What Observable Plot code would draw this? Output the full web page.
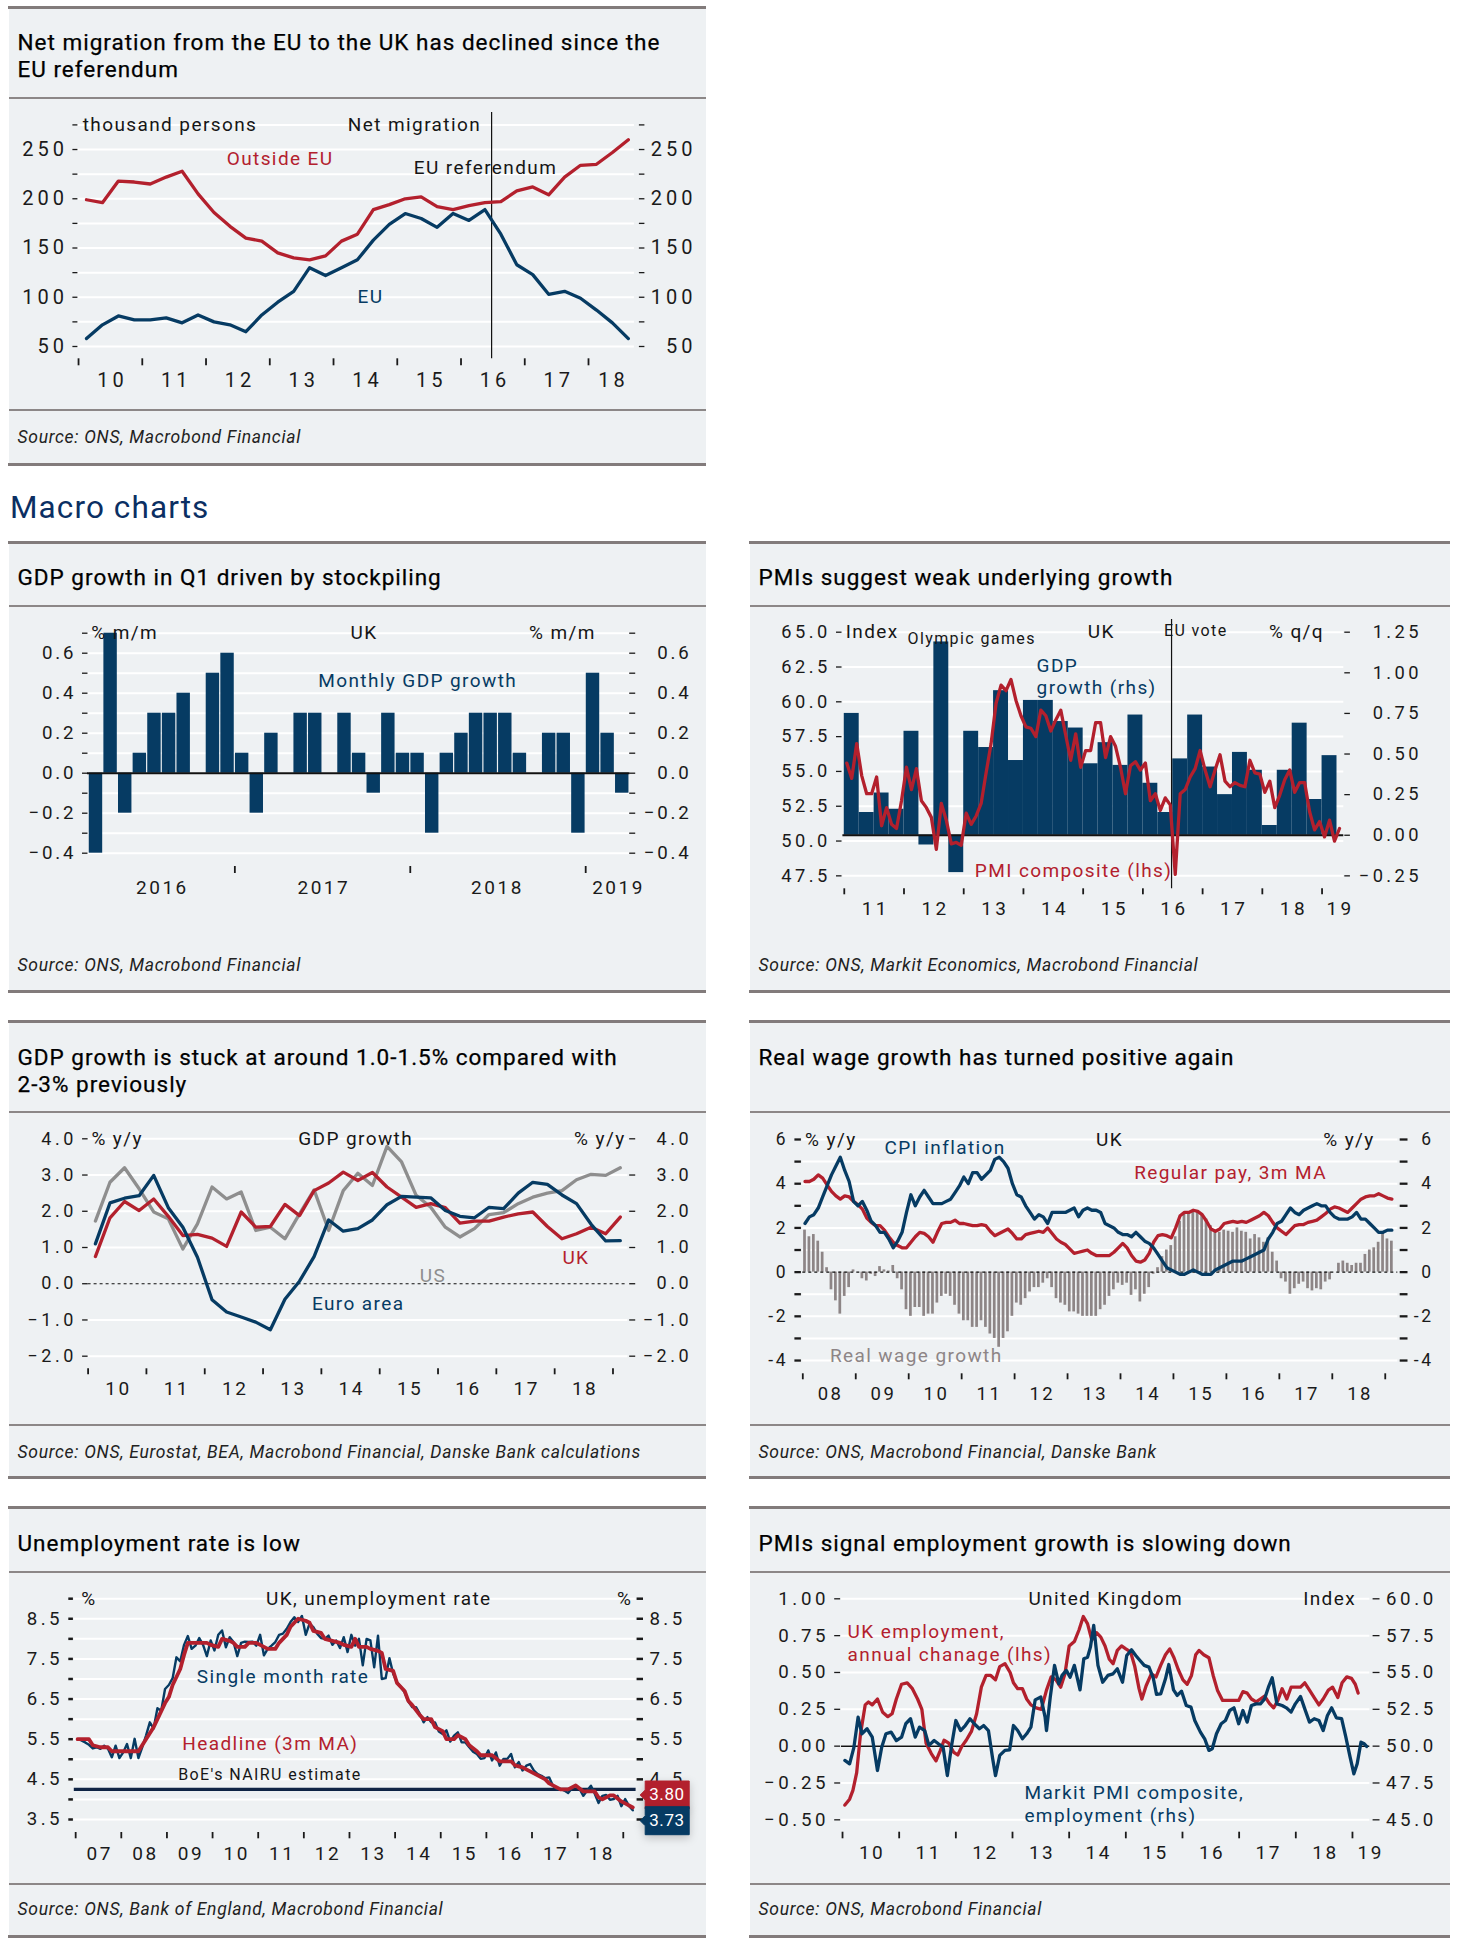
<!DOCTYPE html>
<html><head><meta charset="utf-8">
<script src="https://cdn.jsdelivr.net/npm/d3@7"></script>
<script src="https://cdn.jsdelivr.net/npm/@observablehq/plot@0.6"></script>
<style>
html,body{margin:0;padding:0;background:#fff;}
body{position:relative;width:1457px;height:1951px;overflow:hidden;font-family:Roboto,sans-serif;}
.bg{position:absolute;background:#eef1f3;}
.rule{position:absolute;background:#827b7b;}
.sep{position:absolute;background:#8c8787;}
.title{position:absolute;font-size:22.5px;line-height:27px;color:#000;font-weight:400;letter-spacing:1px;white-space:nowrap;-webkit-text-stroke:0.25px #000;}
.source{position:absolute;font-size:17.5px;line-height:20px;font-style:italic;color:#222;letter-spacing:0.7px;white-space:nowrap;}
.head{position:absolute;font-size:31.5px;line-height:36px;color:#0b2f63;letter-spacing:1.1px;white-space:nowrap;}
.chart{position:absolute;}
.chart svg{overflow:visible;}
.unemp g[aria-label="tip"] text,.unemp g[aria-label="tip"] tspan{fill:#fff !important;letter-spacing:0.6px;}
</style></head><body>
<script>
// ================= DATA =================
// 1. Net migration (thousand persons, rolling year, quarterly from 2010 Q1)
const migStart = 2010.125;
const migEU = [58,72,81,77,77,79,74,82,75,72,65,82,95,106,130,122,130,138,158,174,185,180,171,185,178,189,164,133,123,103,106,99,87,74,58];
const migNonEU = [199,196,218,217,215,222,228,205,186,172,160,157,145,140,138,142,157,164,189,194,200,202,192,189,193,196,197,208,212,204,222,234,235,247,260];
const migYTicks = [50,75,100,125,150,175,200,225,250,275];
const migXTicks = [2010,2011,2012,2013,2014,2015,2016,2017,2018];
const migXLabels = [2010.5,2011.5,2012.5,2013.5,2014.5,2015.5,2016.5,2017.5,2018.36];
const euRefDate = 2016.48;

// 2. Monthly GDP growth (% m/m), Mar 2016 - Mar 2019
const gdpStartMonth = 2; // March 2016 (0 = January)
const gdpMoM = [-0.4,0.7,-0.2,0.1,0.3,0.3,0.4,0.0,0.5,0.6,0.1,-0.2,0.2,0.0,0.3,0.3,0.0,0.3,0.1,-0.1,0.3,0.1,0.1,-0.3,0.1,0.2,0.3,0.3,0.3,0.1,0.0,0.2,0.2,-0.3,0.5,0.2,-0.1];
const gdpYTicks = [-0.4,-0.3,-0.2,-0.1,0,0.1,0.2,0.3,0.4,0.5,0.6,0.7];
const gdpXTicks = [2017,2018,2019];
const gdpXLabels = [2016.58,2017.5,2018.49,2019.18];

// 3. PMI composite (lhs, monthly from Jan 2011) and GDP growth (rhs, % q/q, quarterly from 2011 Q1)
const pmiComposite = [55.6,54.5,57.0,54.7,53.4,53.4,54.6,51.1,52.4,51.2,50.9,52.9,
 55.3,53.7,55.2,52.9,52.4,51.7,49.4,52.7,51.5,49.8,49.9,49.7,
 52.0,51.2,51.8,52.7,54.9,57.0,59.9,61.2,60.8,61.6,60.1,59.0,
 58.2,58.1,57.5,59.4,59.0,57.9,58.7,59.4,57.6,55.8,57.7,55.3,
 56.5,56.5,58.5,58.5,56.0,57.5,56.8,55.3,53.4,55.4,55.7,55.1,
 55.6,52.9,53.4,52.2,53.1,52.6,47.6,53.4,53.7,54.6,55.2,56.5,
 55.1,53.9,55.1,56.2,54.3,53.9,54.2,54.0,53.9,55.8,54.9,54.8,
 53.5,54.3,52.4,53.3,54.4,55.1,53.5,54.2,54.2,52.1,50.8,51.4,
 50.3,51.5,50.0,50.9];
const gdpQoQ = [0.75,0.14,0.26,0.16,0.64,-0.06,1.19,-0.23,0.64,0.54,0.89,0.46,0.83,0.83,0.70,0.66,0.44,0.57,0.43,0.74,0.32,0.14,0.47,0.74,0.42,0.25,0.51,0.40,0.06,0.40,0.69,0.22,0.49];
const pmiLeftTicks = [47.5,50,52.5,55,57.5,60,62.5,65];
const pmiRightTicks = [-0.25,0,0.25,0.5,0.75,1,1.25];
const pmiXTicks = [2011,2012,2013,2014,2015,2016,2017,2018,2019];
const pmiXLabels = [2011.5,2012.5,2013.5,2014.5,2015.5,2016.5,2017.5,2018.5,2019.28];

// 4. GDP growth % y/y, quarterly 2010 Q1 - 2019 Q1
const yoyStart = 2010.125;
const gdpEuro = [1.10,2.23,2.36,2.43,2.99,2.10,1.56,0.73,-0.44,-0.78,-0.92,-1.06,-1.27,-0.43,0.07,0.75,1.76,1.45,1.52,1.76,2.18,2.41,2.39,2.37,2.02,1.86,1.82,2.11,2.07,2.50,2.80,2.74,2.45,2.21,1.64,1.18,1.19];
const gdpUK = [0.75,1.82,2.27,2.02,2.34,1.86,1.33,1.36,1.26,1.03,1.98,1.56,1.58,2.19,1.88,2.57,2.78,3.08,2.85,3.07,2.67,2.39,2.11,2.21,2.10,1.67,1.73,1.73,1.84,1.93,1.98,1.58,1.24,1.38,1.56,1.38,1.84];
const gdpUS = [1.73,2.80,3.20,2.62,1.98,1.79,0.96,1.65,2.67,2.34,2.53,1.47,1.56,1.24,1.93,2.59,1.47,2.57,3.05,2.71,3.79,3.36,2.44,2.11,1.56,1.29,1.52,1.91,1.96,2.21,2.39,2.50,2.57,2.87,3.02,2.99,3.20];
const yoyYTicks = [-2,-1,0,1,2,3,4];
const yoyXTicks = [2010,2011,2012,2013,2014,2015,2016,2017,2018,2019];
const yoyXLabels = [2010.5,2011.5,2012.5,2013.5,2014.5,2015.5,2016.5,2017.5,2018.5];

// 5. Real wage growth, CPI, regular pay (% y/y), monthly from Jan 2008
const wageStart = 2008;
const realWage = [1.9,1.6,1.7,1.4,0.9,0.2,-0.8,-1.3,-1.9,-1.1,-0.7,0.1,
 0.0,-0.3,-0.4,-0.1,-0.2,0.25,0.1,0.05,0.3,-0.3,-0.8,-1.7,
 -2.0,-1.6,-1.6,-2.0,-1.9,-1.9,-1.4,-1.1,-1.0,-1.1,-1.5,-1.9,
 -2.2,-2.2,-2.5,-2.5,-2.2,-2.5,-2.8,-3.0,-3.4,-3.0,-2.7,-2.0,
 -1.4,-1.5,-1.2,-0.9,-0.7,-0.7,-0.5,-0.3,-0.7,-1.2,-1.4,-1.5,
 -1.8,-1.8,-1.9,-2.0,-2.0,-2.0,-2.0,-1.7,-1.5,-1.1,-0.8,-0.5,
 -0.6,-0.5,-1.05,-0.8,-1.35,-1.0,-0.7,-0.1,0.2,0.7,1.0,1.2,
 1.6,2.3,2.7,2.7,2.7,2.7,2.6,2.4,2.1,1.9,1.8,1.9,
 1.85,1.8,2.0,1.85,1.8,1.5,1.7,1.55,1.35,1.55,0.9,0.5,
 -0.3,-0.45,-1.0,-0.75,-0.55,-0.45,-0.75,-0.85,-0.75,-0.8,-0.45,-0.35,
 0.0,0.4,0.5,0.4,0.3,0.4,0.4,0.8,1.0,1.1,1.35,1.75,
 1.5,1.4];
const cpiInfl = [2.2,2.5,2.6,2.9,3.4,3.9,4.4,4.8,5.2,4.6,4.1,3.2,
 3.0,3.2,2.8,2.3,2.1,1.8,1.8,1.5,1.1,1.4,1.8,2.7,
 3.5,3.0,3.4,3.7,3.4,3.1,3.1,3.1,3.2,3.3,3.6,3.9,
 4.3,4.0,4.5,4.5,4.2,4.4,4.6,5.1,5.2,5.0,4.7,4.0,
 3.5,3.4,3.0,2.7,2.4,2.6,2.5,2.2,2.7,2.7,2.7,2.7,
 2.8,2.9,2.5,2.8,2.9,2.8,2.8,2.7,2.2,2.1,2.0,1.8,
 1.7,1.7,1.6,1.8,1.6,1.4,1.3,1.1,0.8,0.5,0.2,0.1,
 0.0,-0.1,-0.1,0.0,0.1,0.0,-0.1,-0.1,-0.1,0.1,0.2,0.3,
 0.4,0.5,0.5,0.5,0.6,0.7,0.8,0.9,1.0,1.5,1.8,2.2,
 2.3,2.6,2.9,2.7,2.6,2.8,2.9,3.0,3.1,3.0,3.0,2.7,
 2.5,2.4,2.4,2.4,2.5,2.7,2.4,2.4,2.2,2.0,1.8,1.8,
 1.9,1.9];
const regularPay = [4.1,4.1,4.2,4.4,4.25,3.95,3.65,3.45,3.3,3.45,3.4,3.2,
 3.05,2.85,2.45,2.25,2.1,2.1,1.9,1.6,1.35,1.2,1.1,1.1,
 1.35,1.6,1.8,1.75,1.6,1.35,1.8,2.2,2.25,2.25,2.35,2.2,
 2.2,2.15,2.1,2.1,2.15,2.1,1.85,1.65,1.75,1.85,1.95,1.75,
 1.5,1.5,1.7,1.75,1.8,1.85,1.8,2.0,1.75,1.5,1.35,1.25,
 1.05,0.85,0.9,0.95,1.0,0.85,0.75,0.75,0.75,0.75,0.9,1.1,
 1.3,1.1,0.75,0.5,0.45,0.55,0.85,1.35,1.65,1.7,1.65,1.55,
 2.0,2.55,2.7,2.7,2.8,2.75,2.6,2.3,1.95,1.85,1.95,2.2,
 2.25,2.3,2.25,2.3,2.25,2.35,2.45,2.55,2.7,2.55,2.25,2.0,
 1.85,1.7,1.9,2.1,2.15,2.15,2.25,2.3,2.35,2.5,2.65,2.85,
 2.95,2.9,2.8,2.7,2.9,3.1,3.3,3.4,3.45,3.45,3.55,3.45,
 3.35,3.3];
const wageYTicks = [-4,-3,-2,-1,0,1,2,3,4,5,6];
const wageXTicks = [2008,2009,2010,2011,2012,2013,2014,2015,2016,2017,2018,2019];
const wageXLabels = [2008.5,2009.5,2010.5,2011.5,2012.5,2013.5,2014.5,2015.5,2016.5,2017.5,2018.5];

// 6. Unemployment rate (%), monthly from Jan 2007
const unempStart = 2007;
const unempSingle = [5.5,5.47,5.42,5.36,5.27,5.3,5.26,5.34,5.26,5.05,5.34,5.03,
 5.17,5.38,5.03,5.51,5.03,5.3,5.59,5.92,5.77,6.27,6.21,6.75,
 6.85,7.02,7.54,7.44,7.85,8.07,7.75,7.83,8.02,7.85,7.57,7.96,
 7.71,8.1,8.21,7.79,8.04,7.92,7.57,7.9,7.93,7.92,7.93,7.83,
 8.1,7.59,7.75,7.83,7.92,8.1,8.13,8.25,8.42,8.54,8.42,8.57,
 8.1,8.38,8.29,8.13,8.02,8.0,8.08,7.85,7.96,7.77,8.04,7.67,
 8.1,7.83,8.0,7.34,8.0,7.96,7.29,8.08,7.0,7.02,7.52,7.13,
 6.92,6.8,6.67,6.44,6.3,6.3,6.13,5.92,6.05,5.92,5.92,5.69,
 5.63,5.72,5.44,5.59,5.67,5.42,5.42,5.3,5.19,5.13,5.01,5.03,
 5.22,4.97,5.17,4.84,5.01,5.01,5.13,4.8,4.93,4.72,4.84,4.88,
 4.72,4.63,4.59,4.53,4.55,4.34,4.26,4.26,4.22,4.16,4.28,4.34,
 4.26,4.09,4.22,4.34,4.14,3.91,4.09,4.11,3.99,4.01,4.09,3.83,
 4.01,3.84,3.73];
const unempMaMonth = [0,3,4,6,8,9,16,17,18,20,21,23,24,25,27,28,29,31,32,34,35,37,38,40,41,42,44,45,47,48,50,52,53,55,56,57,58,60,61,62,64,65,67,69,70,72,73,74,76,77,79,80,81,83,84,86,87,88,90,91,93,94,96,97,99,100,102,103,105,106,108,109,111,112,114,115,117,118,120,121,123,124,126,127,129,130,131,133,134,136,137,138,140,141,143,144,146];
const unempMa = [5.5,5.5,5.35,5.3,5.3,5.2,5.2,5.35,5.5,5.8,6.0,6.4,6.55,6.85,7.25,7.6,7.9,7.9,7.9,7.9,7.85,7.8,8.0,7.95,7.9,7.8,7.8,7.9,7.9,7.85,7.75,7.75,7.9,8.1,8.3,8.4,8.5,8.45,8.4,8.2,8.15,8.0,7.95,7.9,7.85,7.8,8.0,7.8,7.8,7.75,7.7,7.65,7.25,7.2,6.9,6.7,6.45,6.35,6.1,6.0,6.0,5.8,5.7,5.5,5.5,5.6,5.5,5.35,5.2,5.1,5.1,5.1,4.95,4.95,4.95,4.85,4.8,4.75,4.65,4.6,4.5,4.4,4.3,4.25,4.25,4.3,4.35,4.2,4.2,4.2,4.05,4.0,4.1,4.1,3.95,3.9,3.8];
const nairu = 4.25;
const unempLast = {ma: "3.80", single: "3.73"};
const unempYTicks = [3.5,4,4.5,5,5.5,6,6.5,7,7.5,8,8.5,9];
const unempXTicks = [2007,2008,2009,2010,2011,2012,2013,2014,2015,2016,2017,2018,2019];
const unempXLabels = [2007.5,2008.5,2009.5,2010.5,2011.5,2012.5,2013.5,2014.5,2015.5,2016.5,2017.5,2018.5];

// 7. UK employment annual change (lhs) and PMI composite employment (rhs), months since Jan 2010
const empStart = 2010;
const empChgMonth = [0,1,1.7,2.5,3.3,4.3,5,5.8,6.9,8,9.1,10,10.9,12,13.2,14.3,15.4,16.3,17.2,18.3,19.3,20.2,21,22,23,23.9,24.8,25.7,26.8,27.9,28.9,29.9,30.9,31.9,32.8,33.9,35,35.7,36.6,37.6,38.5,39.4,40.5,41.6,42.7,43.7,44.7,45.7,46.6,47.5,48.6,49.6,50.5,51.4,52.3,53.3,54.2,55.1,56,56.8,57.7,58.6,59.5,60.5,61.4,62.3,62.9,63.8,64.9,65.9,66.9,67.9,68.8,69.7,70.6,71.6,72.5,73.4,74.3,75,76,77.1,78,78.9,80,81.2,82.3,83.4,84.3,85.2,86.1,87.1,88,88.9,89.9,90.8,91.7,92.6,93.6,94.5,95.4,96.5,97.4,98.4,99.4,100.4,101.3,102.4,103.3,104.4,105.3,106.3,107.3,108.1,108.7];
const empChg = [-0.40,-0.36,-0.30,-0.18,0.08,0.28,0.30,0.28,0.32,0.23,0.20,0.22,0.32,0.42,0.43,0.39,0.32,0.25,0.02,-0.05,-0.10,-0.03,0.04,0.02,-0.04,-0.06,0.00,0.04,0.10,0.22,0.40,0.48,0.48,0.45,0.54,0.56,0.50,0.43,0.39,0.39,0.32,0.28,0.26,0.25,0.38,0.47,0.45,0.40,0.49,0.68,0.71,0.79,0.88,0.83,0.72,0.77,0.74,0.68,0.59,0.56,0.65,0.68,0.66,0.64,0.54,0.39,0.32,0.41,0.49,0.47,0.55,0.62,0.66,0.60,0.52,0.45,0.42,0.48,0.62,0.65,0.62,0.60,0.48,0.38,0.31,0.31,0.31,0.31,0.37,0.36,0.32,0.30,0.32,0.34,0.29,0.26,0.31,0.39,0.32,0.40,0.40,0.40,0.43,0.38,0.33,0.28,0.32,0.38,0.40,0.33,0.43,0.47,0.46,0.42,0.36];
const empPmiMonth = [0,1,1.9,2.8,3.6,4.7,5.8,6.9,7.8,8.7,9.8,10.9,12,12.9,13.9,14.9,15.8,16.9,17.8,18.9,19.8,20.8,21.7,22.6,23.5,24.5,25.5,26.5,27.4,28.5,29.4,30.4,31.3,31.9,32.8,33.9,34.9,35.7,36.6,37.6,38.5,39.4,40.3,41.5,42.4,42.7,43.5,44.4,45.3,46,46.9,47.7,48.6,49.8,50.6,51.4,52,52.7,53.6,54.6,55.7,56.8,57.7,58.8,59.7,60.7,61.6,62.5,63.4,64.4,65.3,66,66.9,67.9,68.6,69.6,70.4,71.3,72.3,73.3,74.1,75.3,76.2,77.1,77.8,78.7,79.7,80.6,81.5,82.4,83.4,84.3,85.2,86.1,87.1,88,88.9,89.7,90.5,91.5,92.6,93.5,94.5,95.4,96.5,97.4,98.4,99.4,100.4,101.3,102.2,103.1,104.1,105.2,106.1,107,107.8,108.5,109.3,110,110.5];
const empPmi = [49.03,48.8,49.9,51.97,50.84,51.18,50.61,48.35,49.93,50.84,50.95,50.38,50.61,51.52,51.86,50.61,51.29,51.06,50.05,50.38,50.16,49.93,48.0,50.05,51.74,51.06,51.4,51.86,51.52,51.18,51.4,51.06,49.14,48.0,49.37,49.71,49.75,51.4,51.06,50.5,50.84,51.29,53.14,53.33,51.97,51.06,53.33,55.48,54.23,54.8,55.14,54.68,55.48,53.82,55.93,56.04,56.72,58.19,55.48,54.34,54.8,54.91,55.25,54.34,56.15,56.54,56.15,55.81,55.48,55.36,54.64,53.51,53.55,54.57,55.54,53.82,53.44,53.73,52.76,52.65,51.74,50.95,50.5,49.71,49.82,50.84,51.52,51.74,52.42,52.6,51.52,52.42,51.63,52.76,52.87,52.87,53.21,54.0,54.64,52.87,52.76,52.6,52.31,52.87,53.37,52.53,51.63,51.86,51.74,51.06,52.08,52.6,51.92,51.86,50.61,49.25,48.12,48.8,50.27,50.16,49.98];
const empYTicks = [-0.5,-0.25,0,0.25,0.5,0.75,1];
const empXTicks = [2010,2011,2012,2013,2014,2015,2016,2017,2018,2019];
const empXLabels = [2010.5,2011.5,2012.5,2013.5,2014.5,2015.5,2016.5,2017.5,2018.5,2019.3];

// ================= STYLE =================
const C = {blue:"#063b63", red:"#b3202d", gray:"#8e8e8e", wage:"#8d8586", ink:"#161616", nairu:"#0f2445"};
const LW_LINE = 3.3;
const PLOT_STYLE = "font-family:Roboto,sans-serif;font-size:19px;color:#161616;background:transparent;overflow:visible;letter-spacing:1.4px;";
const f1 = d3.format(".1f"), f2 = d3.format(".2f");
const yy = d => String(Math.floor(d) % 100).padStart(2, "0");

function add(cls, css, html) {
  const e = document.createElement("div");
  e.className = cls;
  for (const k in css) e.style[k] = typeof css[k] === "number" ? css[k] + "px" : css[k];
  if (html) e.innerHTML = html;
  document.body.appendChild(e);
  return e;
}
function panel(p) {
  add("bg", {left:p.x, top:p.top, width:p.w, height:p.bottom - p.top});
  add("rule", {left:p.x - 1.5, top:p.top, width:p.w + 1.5, height:3});
  add("rule", {left:p.x - 1.5, top:p.bottom - 3, width:p.w + 1.5, height:3});
  add("sep", {left:p.x, top:p.sep1 - 1, width:p.w, height:2});
  if (p.sep2) add("sep", {left:p.x, top:p.sep2 - 1, width:p.w, height:2});
  add("title", {left:p.x + 8.5, top:p.tc - 13.2}, p.title);
  add("source", {left:p.x + 8.5, top:p.sc - 9.8}, p.source);
}
function axes(o) {
  const tc = {stroke:"#1a1a1a", fill:"#1a1a1a", label:null};
  const ms = [];
  ms.push(Plot.axisY(o.lt, {...tc, anchor:"left", tickSize:o.l[0], dx:o.l[1], tickPadding:o.l[2], tickFormat:o.lf, fontSize:o.fs, strokeWidth:o.tw || 1.3}));
  ms.push(Plot.axisY(o.rt || o.lt, {...tc, anchor:"right", tickSize:o.r[0], dx:o.r[1], tickPadding:o.r[2], tickFormat:o.rf || o.lf, textAnchor:"end", fontSize:o.fs, strokeWidth:o.tw || 1.3}));
  ms.push(Plot.axisX(o.xt, {...tc, anchor:"bottom", tickSize:o.xs, tickFormat:() => "", strokeWidth:1.8}));
  ms.push(Plot.axisX(o.xl, {...tc, anchor:"bottom", tickSize:0, tickPadding:o.xp, tickFormat:o.xf || yy, fontSize:o.xfs || o.fs, dx:(o.xls || o.ls) / 2}));
  return ms;
}
function lab(t, x, y, o = {}) {
  return Plot.text([{x, y}], {x:"x", y:"y", text:[t], fill:o.c || C.ink, textAnchor:o.a || "middle", fontSize:o.s || 19, lineAnchor:"middle"});
}
function grid(ticks) { return Plot.ruleY(ticks, {stroke:"#fff", strokeWidth:2}); }
function chart(o) {
  const svg = Plot.plot({
    width:o.w, height:o.h,
    marginTop:o.m[0], marginRight:o.m[1], marginBottom:o.m[2], marginLeft:o.m[3],
    x:{type:"linear", domain:o.xd}, y:{type:"linear", domain:o.yd},
    className:o.cls, style:PLOT_STYLE, marks:o.marks
  });
  d3.select(svg).selectAll('g[aria-label="y-axis tick label"]').style("letter-spacing", o.ls + "px");
  d3.select(svg).selectAll('g[aria-label="x-axis tick label"]').style("letter-spacing", (o.xls || o.ls) + "px");
  const d = add("chart", {left:o.left, top:o.top, width:o.w, height:o.h});
  d.appendChild(svg);
}

// ================= PAGE =================
const L = 9, LW = 697, R = 750, RW = 700;
panel({x:L, w:LW, top:6, bottom:466, sep1:98, sep2:410, tc:42, sc:437,
  title:"Net migration from the EU to the UK has declined since the<br>EU referendum", source:"Source: ONS, Macrobond Financial"});
add("head", {left:10, top:489.5}, "Macro charts");
panel({x:L, w:LW, top:541, bottom:993, sep1:606, tc:577, sc:965,
  title:"GDP growth in Q1 driven by stockpiling", source:"Source: ONS, Macrobond Financial"});
panel({x:R, w:RW, top:541, bottom:993, sep1:606, tc:577, sc:965,
  title:"PMIs suggest weak underlying growth", source:"Source: ONS, Markit Economics, Macrobond Financial"});
panel({x:L, w:LW, top:1020, bottom:1479, sep1:1112, sep2:1425, tc:1057, sc:1452,
  title:"GDP growth is stuck at around 1.0-1.5% compared with<br>2-3% previously", source:"Source: ONS, Eurostat, BEA, Macrobond Financial, Danske Bank calculations"});
panel({x:R, w:RW, top:1020, bottom:1479, sep1:1112, sep2:1425, tc:1057, sc:1452,
  title:"Real wage growth has turned positive again", source:"Source: ONS, Macrobond Financial, Danske Bank"});
panel({x:L, w:LW, top:1506, bottom:1938, sep1:1572, sep2:1884, tc:1543, sc:1909,
  title:"Unemployment rate is low", source:"Source: ONS, Bank of England, Macrobond Financial"});
panel({x:R, w:RW, top:1506, bottom:1938, sep1:1572, sep2:1884, tc:1543, sc:1909,
  title:"PMIs signal employment growth is slowing down", source:"Source: ONS, Macrobond Financial"});

// ---- Chart 1: net migration
{
  const rows = migEU.map((v, i) => ({x: migStart + i * 0.25, eu: v, non: migNonEU[i]}));
  const fmt = d => (d % 50 === 0 && d <= 250) ? String(d) : "";
  chart({left:8, top:99, w:698, h:310, m:[25.4, 72.1, 50.7, 69.4], xd:[2009.99, 2018.72], yd:[37.5, 275], ls:4,
    marks:[
      grid(migYTicks),
      ...axes({lt:migYTicks, lf:fmt, fs:20, ls:4, l:[5, 0, 4.8], r:[5.5, 4, 52.6], xt:migXTicks, xs:7, xl:migXLabels, xp:13.9}),
      Plot.ruleX([euRefDate], {y1:37.5, y2:287.6, stroke:"#111", strokeWidth:1.2}),
      Plot.line(rows, {x:"x", y:"non", stroke:C.red, strokeWidth:LW_LINE}),
      Plot.line(rows, {x:"x", y:"eu", stroke:C.blue, strokeWidth:LW_LINE}),
      lab("thousand persons", 2010.065, 275, {a:"start"}),
      lab("Net migration", 2015.27, 275),
      lab("Outside EU", 2013.162, 240.6, {c:C.red}),
      lab("EU referendum", 2016.384, 231),
      lab("EU", 2014.58, 100.8, {c:C.blue})
    ]});
}

// ---- Chart 2: monthly GDP
{
  const rows = gdpMoM.map((v, i) => ({x1: 2016 + (gdpStartMonth + i) / 12, x2: 2016 + (gdpStartMonth + i + 1) / 12, v}));
  const fmt = d => (Math.abs(Math.round(d * 10)) % 2 === 0 && d < 0.65) ? f1(d) : "";
  chart({left:8, top:607, w:698, h:383, m:[25.7, 76.6, 124, 79], xd:[2016.16, 2019.252], yd:[-0.4665, 0.7], ls:2.75, xls:2.5,
    marks:[
      grid(gdpYTicks),
      ...axes({lt:gdpYTicks, lf:fmt, fs:18.7, ls:2.75, xls:2.5, l:[5.5, 0.5, 6.35], r:[6, -1.2, 56.75], xt:gdpXTicks, xs:7, xl:gdpXLabels, xp:13.6, xf:d => String(Math.floor(d)), xfs:19}),
      Plot.rect(rows, {x1:"x1", x2:"x2", y1:0, y2:"v", fill:C.blue, insetLeft:0.6, insetRight:0.6}),
      Plot.ruleY([0], {stroke:"#111", strokeWidth:2}),
      lab("% m/m", 2016.182, 0.7, {a:"start"}),
      lab("UK", 2017.737, 0.7),
      lab("% m/m", 2019.058, 0.7, {a:"end"}),
      lab("Monthly GDP growth", 2018.042, 0.4635, {c:C.blue})
    ]});
}

// ---- Chart 3: PMI composite vs GDP q/q
{
  const conv = v => 47.5 + (v + 0.25) * (17.5 / 1.5);
  const inv = y => (y - 47.5) / (17.5 / 1.5) - 0.25;
  const bars = gdpQoQ.map((v, i) => ({x1: 2011 + i * 0.25, x2: 2011 + (i + 1) * 0.25, v}));
  const line = pmiComposite.map((v, i) => ({x: 2011 + (i + 0.5) / 12, v}));
  chart({left:750, top:607, w:700, h:383, m:[24.7, 106.7, 101.7, 92.4], xd:[2010.977, 2019.364], yd:[46.57, 65], ls:3.4,
    marks:[
      grid(pmiLeftTicks),
      ...axes({lt:pmiLeftTicks, lf:f1, rt:pmiRightTicks.map(conv), rf:d => f2(inv(d)), fs:18.3, ls:3.4, l:[5.5, -0.9, 5.9], r:[5.6, 0, 72.5], xt:pmiXTicks, xs:6, xl:pmiXLabels, xp:12.9, xfs:19}),
      Plot.rect(bars, {x1:"x1", x2:"x2", y1:conv(0), y2:d => conv(d.v), fill:C.blue}),
      Plot.ruleY([conv(0)], {stroke:"#111", strokeWidth:1.8}),
      Plot.ruleX([euRefDate], {y1:46.57, y2:65.91, stroke:"#111", strokeWidth:1.2}),
      Plot.line(line, {x:"x", y:"v", stroke:C.red, strokeWidth:LW_LINE}),
      lab("Index", 2011.024, 65, {a:"start"}),
      lab("Olympic games", 2012.059, 64.53, {a:"start", s:16}),
      lab("UK", 2015.302, 65),
      lab("EU vote", 2016.352, 65.07, {a:"start", s:16}),
      lab("% q/q", 2019.033, 65, {a:"end"}),
      lab("GDP", 2014.22, 62.61, {a:"start", c:C.blue}),
      lab("growth (rhs)", 2014.22, 61.0, {a:"start", c:C.blue}),
      lab("PMI composite (lhs)", 2013.186, 47.83, {a:"start", c:C.red})
    ]});
}

// ---- Chart 4: GDP y/y
{
  const rows = gdpUK.map((v, i) => ({x: yoyStart + i * 0.25, uk: v, us: gdpUS[i], ea: gdpEuro[i]}));
  chart({left:8, top:1113, w:698, h:311, m:[25.3, 78.7, 55.7, 79.6], xd:[2010, 2019.254], yd:[-2.348, 4], ls:3.6, xls:2.5,
    marks:[
      grid(yoyYTicks.filter(d => d !== 0)),
      ...axes({lt:yoyYTicks, lf:f1, fs:18, ls:3.6, xls:2.5, l:[5.5, 0, 5.6], r:[6, 0.9, 57.6], xt:yoyXTicks, xs:6, xl:yoyXLabels, xp:12.9, xfs:19}),
      Plot.ruleY([0], {stroke:"#111", strokeWidth:1.2, strokeDasharray:"3,3"}),
      Plot.line(rows, {x:"x", y:"us", stroke:C.gray, strokeWidth:LW_LINE}),
      Plot.line(rows, {x:"x", y:"uk", stroke:C.red, strokeWidth:LW_LINE}),
      Plot.line(rows, {x:"x", y:"ea", stroke:C.blue, strokeWidth:LW_LINE}),
      lab("% y/y", 2010.057, 4, {a:"start"}),
      lab("GDP growth", 2014.588, 4),
      lab("% y/y", 2019.215, 4, {a:"end"}),
      lab("UK", 2018.364, 0.716, {c:C.red}),
      lab("US", 2015.912, 0.227, {c:C.gray}),
      lab("Euro area", 2014.631, -0.554, {c:C.blue})
    ]});
}

// ---- Chart 5: real wages
{
  const rows = realWage.map((w, m) => ({x1: wageStart + m / 12, x2: wageStart + (m + 1) / 12, x: wageStart + (m + 0.5) / 12, w, cpi: cpiInfl[m], pay: regularPay[m]}));
  const fmt = d => (d % 2 === 0) ? String(d) : "";
  chart({left:750, top:1113, w:700, h:311, m:[26, 52.7, 50.7, 52.3], xd:[2008, 2019.237], yd:[-4.6, 6], ls:2.5,
    marks:[
      grid(wageYTicks.filter(d => d !== 0)),
      ...axes({lt:wageYTicks, lf:fmt, fs:17.5, ls:2.5, tw:2.3, l:[6.5, -1.4, 6.9], r:[7.8, 1.4, 26.5], xt:wageXTicks, xs:6, xl:wageXLabels, xp:12.9, xfs:18.5}),
      Plot.rect(rows, {x1:"x1", x2:"x2", y1:0, y2:"w", fill:C.wage, insetLeft:0.85, insetRight:0.85}),
      Plot.ruleY([0], {stroke:"#111", strokeWidth:1.3, strokeDasharray:"3,3"}),
      Plot.line(rows, {x:"x", y:"pay", stroke:C.red, strokeWidth:LW_LINE}),
      Plot.line(rows, {x:"x", y:"cpi", stroke:C.blue, strokeWidth:LW_LINE}),
      lab("% y/y", 2008.043, 6, {a:"start"}),
      lab("CPI inflation", 2010.687, 5.62, {c:C.blue}),
      lab("UK", 2013.792, 6),
      lab("% y/y", 2018.801, 6, {a:"end"}),
      lab("Regular pay, 3m MA", 2016.079, 4.475, {c:C.red}),
      lab("Real wage growth", 2010.142, -3.774, {c:C.wage})
    ]});
}

// ---- Chart 6: unemployment
{
  const single = unempSingle.map((v, m) => ({x: unempStart + (m + 0.5) / 12, v}));
  const ma = unempMa.map((v, i) => ({x: unempStart + (unempMaMonth[i] + 0.5) / 12, v}));
  const lastS = single[single.length - 1], lastM = ma[ma.length - 1];
  const fmt = d => (Math.round(d * 2) % 2 === 1 && d < 8.8) ? f1(d) : "";
  chart({left:8, top:1573, w:698, h:311, m:[25.2, 70.4, 52, 65.8], xd:[2006.97, 2019.281], yd:[3.176, 9.0], ls:3.4, xls:2.5, cls:"unemp",
    marks:[
      grid(unempYTicks),
      ...axes({lt:unempYTicks, lf:fmt, fs:18.7, ls:3.4, xls:2.5, tw:2.5, l:[4.6, -0.9, 5.9], r:[6.4, 0, 43.1], xt:unempXTicks, xs:6.3, xl:unempXLabels, xp:13.6, xfs:19}),
      Plot.ruleY([nairu], {stroke:C.nairu, strokeWidth:3.2}),
      Plot.line(single, {x:"x", y:"v", stroke:C.blue, strokeWidth:2.4}),
      Plot.line(ma, {x:"x", y:"v", stroke:C.red, strokeWidth:3.8}),
      lab("%", 2007.121, 9, {a:"start"}),
      lab("UK, unemployment rate", 2013.641, 9),
      lab("%", 2019.201, 9, {a:"end"}),
      lab("Single month rate", 2011.544, 7.045, {c:C.blue}),
      lab("Headline (3m MA)", 2011.265, 5.386, {c:C.red}),
      lab("BoE's NAIRU estimate", 2011.257, 4.621, {s:16}),
      Plot.tip([{x:lastM.x, y:lastM.v, t:unempLast.ma}], {x:"x", y:"y", title:"t", anchor:"left", fill:C.red, stroke:C.red, dx:7.7, dy:-12.5, pointerSize:10, textPadding:4, fontSize:17, lineHeight:1.05}),
      Plot.tip([{x:lastS.x, y:lastS.v, t:unempLast.single}], {x:"x", y:"y", title:"t", anchor:"left", fill:C.blue, stroke:C.blue, dx:7.7, dy:10.2, pointerSize:10, textPadding:4, fontSize:17, lineHeight:1.05})
    ]});
}

// ---- Chart 7: employment vs PMI employment
{
  const red = empChg.map((v, i) => ({x: empStart + (empChgMonth[i] + 0.5) / 12, v}));
  const blue = empPmi.map((v, i) => ({x: empStart + (empPmiMonth[i] + 0.5) / 12, v: (v - 50) / 10}));
  chart({left:750, top:1573, w:700, h:311, m:[25.3, 80.7, 52.3, 91], xd:[2009.982, 2019.306], yd:[-0.584, 1], ls:3.6, xls:2.5,
    marks:[
      grid(empYTicks),
      ...axes({lt:empYTicks, lf:f2, rf:d => f1(50 + d * 10), fs:18.7, ls:3.6, xls:2.5, l:[5.9, -0.9, 5.6], r:[6.9, 2.3, 57.8], xt:empXTicks, xs:6.6, xl:empXLabels, xp:13.2, xfs:19}),
      Plot.ruleY([0], {stroke:"#111", strokeWidth:1.5}),
      Plot.line(red, {x:"x", y:"v", stroke:C.red, strokeWidth:LW_LINE}),
      Plot.line(blue, {x:"x", y:"v", stroke:C.blue, strokeWidth:LW_LINE}),
      lab("United Kingdom", 2014.645, 1),
      lab("Index", 2019.063, 1, {a:"end"}),
      lab("UK employment,", 2010.088, 0.773, {a:"start", c:C.red}),
      lab("annual chanage (lhs)", 2010.088, 0.622, {a:"start", c:C.red}),
      lab("Markit PMI composite,", 2013.21, -0.317, {a:"start", c:C.blue}),
      lab("employment (rhs)", 2013.21, -0.471, {a:"start", c:C.blue})
    ]});
}
</script>
</body></html>
